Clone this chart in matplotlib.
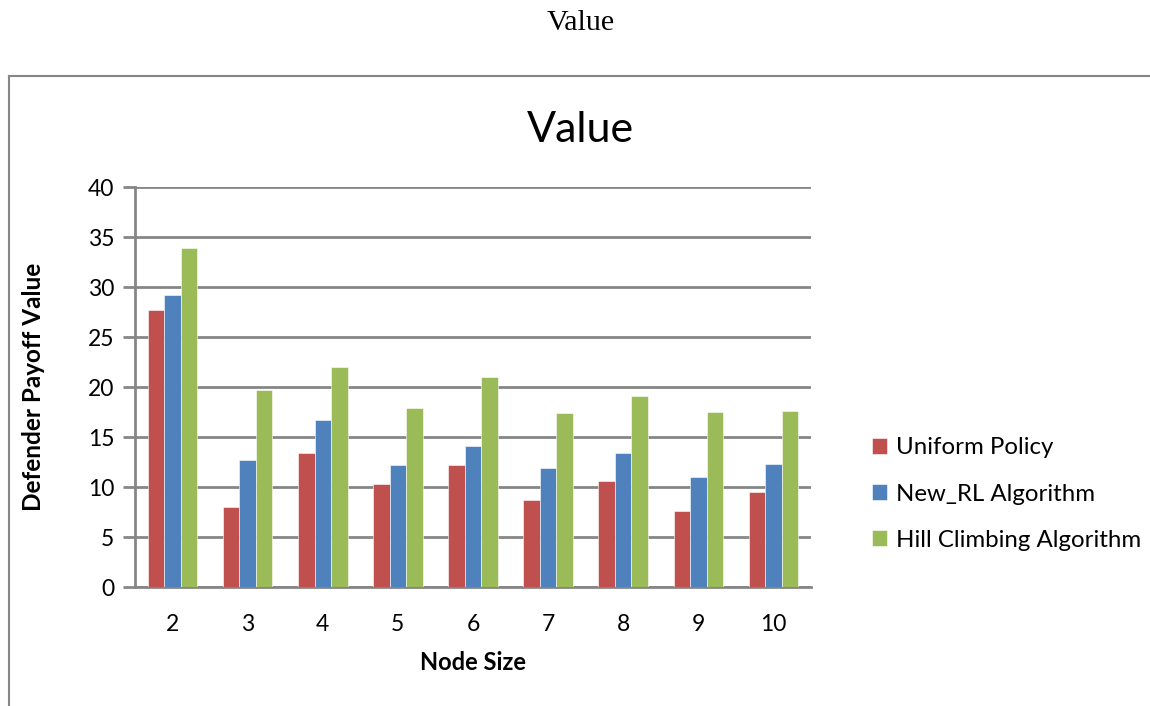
import matplotlib.pyplot as plt
from matplotlib.lines import Line2D
import numpy as np

# --- Data ---
node_sizes = ["2", "3", "4", "5", "6", "7", "8", "9", "10"]
uniform_policy = [27.7, 8.0, 13.4, 10.3, 12.2, 8.7, 10.6, 7.6, 9.5]
new_rl = [29.2, 12.7, 16.7, 12.2, 14.1, 11.9, 13.4, 11.0, 12.3]
hill_climbing = [33.9, 19.7, 22.0, 17.9, 21.0, 17.4, 19.1, 17.5, 17.6]

series = [
    ("Uniform Policy", uniform_policy, "#C0504D"),
    ("New_RL Algorithm", new_rl, "#4F81BD"),
    ("Hill Climbing Algorithm", hill_climbing, "#9BBB59"),
]

plt.rcParams["font.family"] = ["Lato", "DejaVu Sans"]
grid_gray = "#868686"

fig = plt.figure(figsize=(11.5, 7.06), dpi=100)
ax = fig.add_axes([0.1174, 0.1681, 0.5878, 0.5666])

x = np.arange(len(node_sizes))
width = 0.22
for i, (label, vals, color) in enumerate(series):
    ax.bar(x + (i - 1) * width, vals, width, color=color, label=label,
           edgecolor="white", linewidth=0.4, zorder=3)

ax.set_xlim(-0.5, len(node_sizes) - 0.5)
ax.set_ylim(0, 40)
ax.set_yticks(range(0, 41, 5))
ax.set_xticks(x)
ax.set_xticklabels(node_sizes)
ax.tick_params(axis="y", length=9, width=2, color=grid_gray, labelsize=16.5, pad=6)
ax.tick_params(axis="x", length=0, labelsize=16.5, pad=19)
ax.yaxis.grid(True, color=grid_gray, linewidth=2, zorder=0)
ax.set_axisbelow(True)

for side in ["top", "right"]:
    ax.spines[side].set_visible(False)
for side in ["left", "bottom"]:
    ax.spines[side].set_color(grid_gray)
    ax.spines[side].set_linewidth(2)

ax.set_xlabel("Node Size", fontsize=17, fontweight="bold", labelpad=12)
ax.set_ylabel("Defender Payoff Value", fontsize=17.5, fontweight="bold", labelpad=31)

# chart title inside the frame
fig.text(0.505, 1 - 142 / 706, "Value", fontsize=31, ha="center", va="baseline")

# document caption above the frame
fig.text(0.505, 1 - 30 / 706, "Value", fontsize=21.6, ha="center", va="baseline",
         family="Liberation Serif")

ax.legend(loc="center left", bbox_to_anchor=(1.058, 0.233), frameon=False,
          fontsize=17.3, handlelength=0.65, handleheight=0.65, handletextpad=0.35,
          labelspacing=1.05)

# outer chart frame
top = 1 - 75.5 / 706
left = 8.5 / 1150
fig.add_artist(Line2D([left, left], [0, top], color=grid_gray, linewidth=1.5))
fig.add_artist(Line2D([left, 1.0], [top, top], color=grid_gray, linewidth=1.5))

fig.savefig("out.png", dpi=100)
